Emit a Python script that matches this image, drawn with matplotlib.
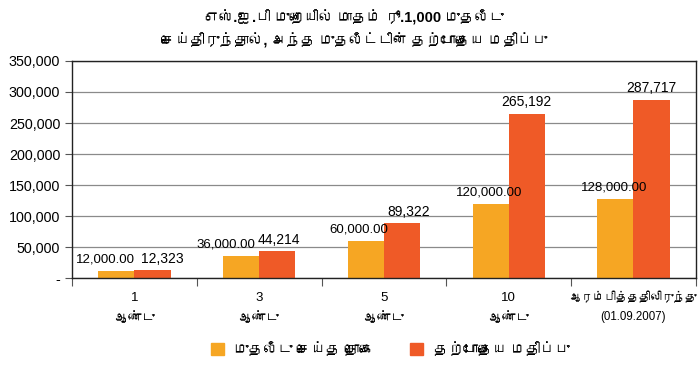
import matplotlib
matplotlib.use('Agg')
import matplotlib.pyplot as plt
import numpy as np
from matplotlib import font_manager
from matplotlib.ft2font import FT2Font
from matplotlib.patches import Patch

# ── Data ─────────────────────────────────────────────────────────────────────
CATEGORIES = ['1\nஆண்டு', '3\nஆண்டு', '5\nஆண்டு', '10\nஆண்டு',
              'ஆரம்பித்ததிலிருந்து\n(01.09.2007)']
INVESTED = [12000, 36000, 60000, 120000, 128000]
CURRENT = [12323, 44214, 89322, 265192, 287717]
SERIES_NAMES = ['முதலீடு செய்த தொகை', 'தற்போதைய மதிப்பு']
TITLE = 'எஸ்.ஐ.பி முறையில் மாதம் ரூ.1,000 முதலீடு\nசெய்திருந்தால், அந்த முதலீட்டின் தற்போதைய மதிப்பு'
Y_TICKS = [0, 50000, 100000, 150000, 200000, 250000, 300000, 350000]

ORANGE = '#F6A623'
RED = '#EF5A27'

# horizontal nudges (points) for the value labels, to keep pairs apart
NUDGE_INV = [-8, -11, -5, -1, -1]
NUDGE_CUR = [7, 1, 5, 0, 0]


def find_tamil_family():
    # first installed font that has Tamil glyphs, if any
    for f in font_manager.fontManager.ttflist:
        try:
            if 0x0BA4 in FT2Font(f.fname).get_charmap():
                return f.name
        except Exception:
            pass
    return None


fams = ['Liberation Sans']
tamil = find_tamil_family()
if tamil:
    fams.append(tamil)
fams.append('DejaVu Sans')
plt.rcParams['font.family'] = fams

fig = plt.figure(figsize=(7, 3.65), dpi=100)
ax = fig.add_axes([0.103, 0.238, 0.891, 0.595])

x = np.arange(len(CATEGORIES))
w = 0.29
b1 = ax.bar(x - w / 2, INVESTED, w, color=ORANGE, zorder=2)
b2 = ax.bar(x + w / 2, CURRENT, w, color=RED, zorder=2)

for bar, val, dx in zip(b1, INVESTED, NUDGE_INV):
    ax.annotate(f'{val:,.2f}', (bar.get_x() + bar.get_width() / 2, val),
                xytext=(dx, 8), textcoords='offset points',
                ha='center', va='center', fontsize=9.5, zorder=4)
for bar, val, dx in zip(b2, CURRENT, NUDGE_CUR):
    ax.annotate(f'{val:,}', (bar.get_x() + bar.get_width() / 2, val),
                xytext=(dx, 8), textcoords='offset points',
                ha='center', va='center', fontsize=10, zorder=4)

ax.set_xlim(-0.5, len(CATEGORIES) - 0.5)
ax.set_ylim(0, 350000)
ax.set_yticks(Y_TICKS)
ax.set_yticklabels(['-'] + [f'{v:,}' for v in Y_TICKS[1:]], fontsize=10.3)
ax.yaxis.grid(True, color='#8a8a8a', linewidth=0.9, zorder=0)
ax.set_axisbelow(True)

ax.set_xticks(np.arange(-0.5, len(CATEGORIES)), minor=False)
ax.set_xticklabels([])
ax.set_xticks(x, minor=True)
ax.set_xticklabels(CATEGORIES, minor=True, fontsize=9.5, linespacing=1.9)
# the long last label has to fit inside the figure
ax.get_xticklabels(minor=True)[-1].set_fontsize(8.3)
ax.get_xticklabels(minor=True)[-1].set_linespacing(1.7)
ax.tick_params(axis='x', which='minor', length=0, pad=10)
ax.tick_params(axis='x', which='major', length=6, color='#555555')
ax.tick_params(axis='y', length=5, color='#555555')

for s in ax.spines.values():
    s.set_color('#222222')
    s.set_linewidth(1.0)

fig.text(0.506, 0.92, TITLE, ha='center', va='center', fontsize=10.5,
         fontweight='bold', linespacing=1.6)

handles = [Patch(color=ORANGE), Patch(color=RED)]
fig.legend(handles, SERIES_NAMES, loc='center', bbox_to_anchor=(0.557, 0.041),
           ncol=2, frameon=False, fontsize=10.5, handlelength=0.9,
           handleheight=0.9, columnspacing=2.5, handletextpad=0.7)

fig.savefig('out.png', dpi=100)
